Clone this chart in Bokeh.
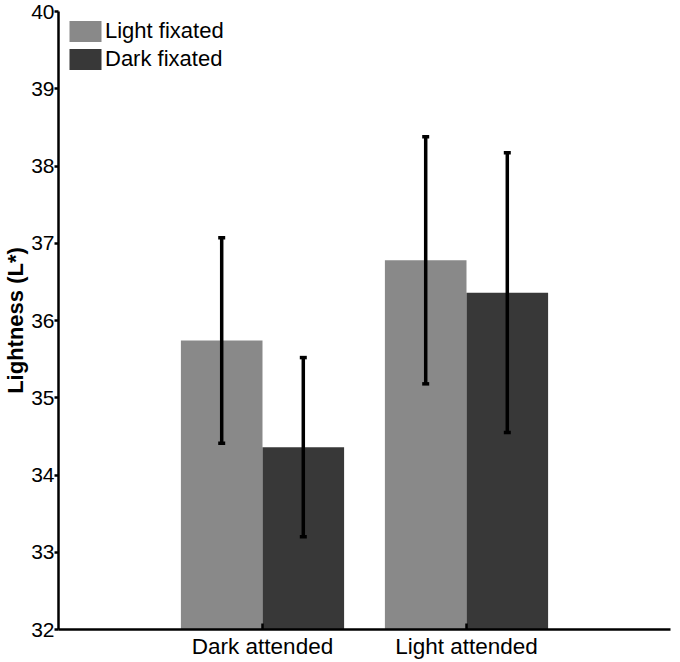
from bokeh.plotting import figure
from bokeh.models import (ColumnDataSource, FactorRange, Whisker, TeeHead,
                          FixedTicker, Legend, LegendItem)
from bokeh.transform import dodge
from bokeh.embed import file_html
from bokeh.resources import INLINE

categories = ["Dark attended", "Light attended"]
series = ["Light fixated", "Dark fixated"]
light_mean = [35.74, 36.78]
dark_mean = [34.36, 36.36]
light_err = [1.33, 1.60]
dark_err = [1.16, 1.81]
y_ticks = [32, 33, 34, 35, 36, 37, 38, 39, 40]

LIGHT = "#898989"
DARK = "#383838"
FONT = "Liberation Sans"

src = ColumnDataSource(dict(
    cat=categories,
    light=light_mean,
    dark=dark_mean,
    light_lo=[m - e for m, e in zip(light_mean, light_err)],
    light_hi=[m + e for m, e in zip(light_mean, light_err)],
    dark_lo=[m - e for m, e in zip(dark_mean, dark_err)],
    dark_hi=[m + e for m, e in zip(dark_mean, dark_err)],
))

x_range = FactorRange(*categories, range_padding=0.5, range_padding_units="absolute")
p = figure(width=672, height=661, x_range=x_range, y_range=(32, 40),
           output_backend="svg", toolbar_location=None,
           min_border_left=49, min_border_right=2, min_border_top=11,
           min_border_bottom=26)

r1 = p.vbar(x=dodge("cat", -0.2, range=p.x_range), top="light", bottom=32,
            width=0.4, source=src, fill_color=LIGHT, line_color=None)
r2 = p.vbar(x=dodge("cat", 0.2, range=p.x_range), top="dark", bottom=32,
            width=0.4, source=src, fill_color=DARK, line_color=None)

for off, lo, hi in [(-0.2, "light_lo", "light_hi"), (0.2, "dark_lo", "dark_hi")]:
    w = Whisker(source=src, base=dodge("cat", off, range=p.x_range),
                lower=lo, upper=hi, line_width=3.5, line_color="black",
                level="overlay",
                upper_head=TeeHead(size=7, line_width=3.5, line_color="black"),
                lower_head=TeeHead(size=7, line_width=3.5, line_color="black"))
    p.add_layout(w)

legend = Legend(items=[LegendItem(label=series[0], renderers=[r1]),
                       LegendItem(label=series[1], renderers=[r2])],
                location="top_left", margin=7, padding=0, spacing=2,
                glyph_width=40, glyph_height=26, label_height=26,
                label_standoff=0, border_line_color=None,
                background_fill_alpha=0,
                label_text_font=FONT, label_text_font_size="22px",
                label_text_color="black")
p.add_layout(legend)

p.grid.visible = False
p.outline_line_color = None

xa = p.xaxis[0]
xa.axis_line_width = 2.5
xa.axis_line_color = "black"
xa.major_tick_in = 6
xa.major_tick_out = 0
xa.major_tick_line_width = 2.5
xa.major_tick_line_color = "black"
xa.major_label_text_font = FONT
xa.major_label_text_font_size = "22.5px"
xa.major_label_text_color = "black"
xa.major_label_standoff = 4

ya = p.yaxis[0]
ya.ticker = FixedTicker(ticks=y_ticks)
ya.minor_tick_line_color = None
ya.axis_line_width = 2.5
ya.axis_line_color = "black"
ya.major_tick_in = 0
ya.major_tick_out = 4
ya.major_tick_line_width = 2.5
ya.major_tick_line_color = "black"
ya.major_label_text_font = FONT
ya.major_label_text_font_size = "21px"
ya.major_label_text_color = "black"
ya.major_label_standoff = 0
ya.axis_label = "Lightness (L*)"
ya.axis_label_text_font = FONT
ya.axis_label_text_font_size = "22px"
ya.axis_label_text_font_style = "bold"
ya.axis_label_text_color = "black"
ya.axis_label_standoff = 0

open("out.html", "w").write(file_html(p, INLINE))
